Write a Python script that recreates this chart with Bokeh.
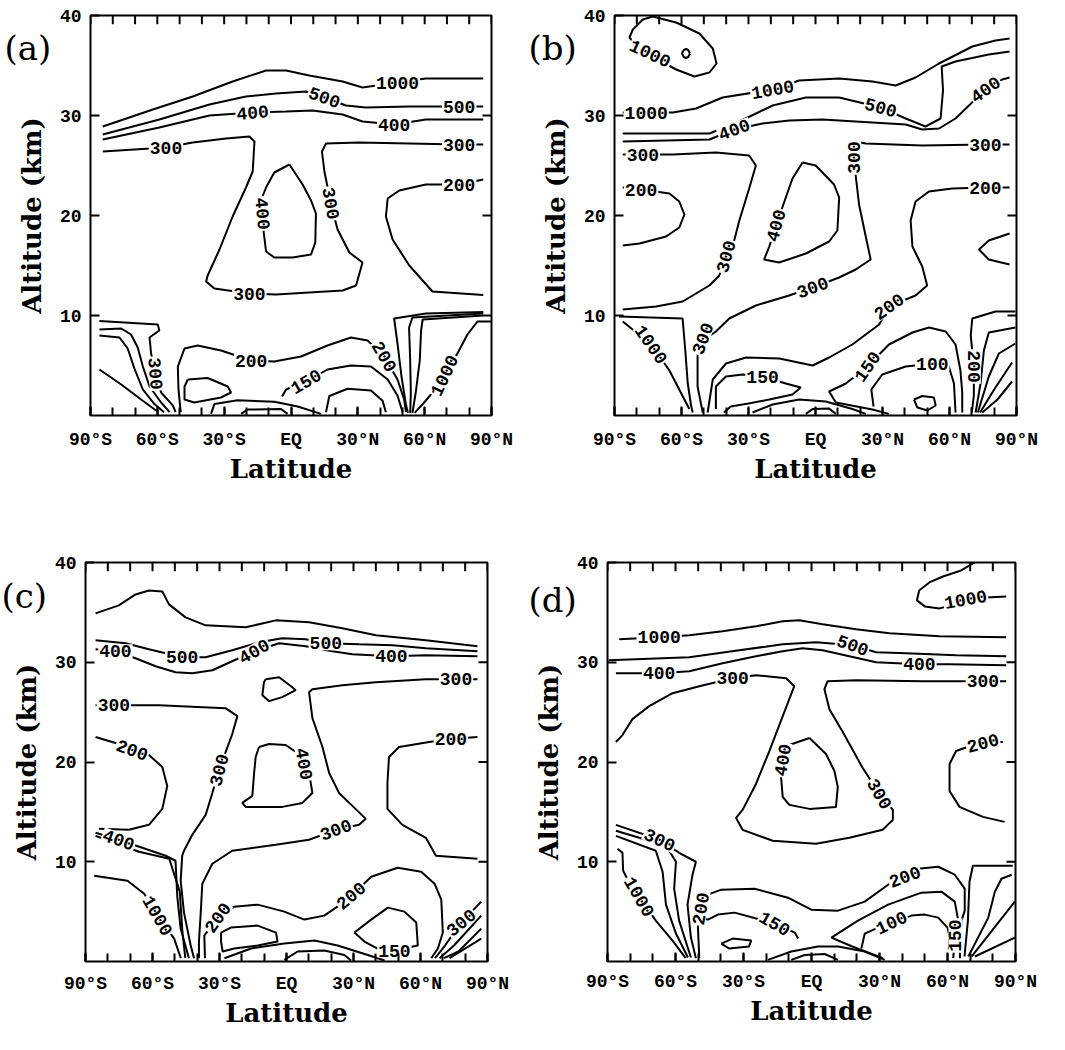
from bokeh.plotting import figure
from bokeh.models import FixedTicker, Range1d
from bokeh.layouts import column, row
from bokeh.embed import file_html
from bokeh.resources import INLINE
from bokeh.core.properties import value

# ---------------- axes ----------------
LAT_TICKS = [-90, -60, -30, 0, 30, 60, 90]
LAT_LABELS = ["90\u00b0S", "60\u00b0S", "30\u00b0S", "EQ", "30\u00b0N", "60\u00b0N", "90\u00b0N"]
LAT_MINOR = [-90, -80, -70, -60, -50, -40, -30, -20, -10, 0, 10, 20, 30, 40, 50, 60, 70, 80, 90]
ALT_TICKS = [10, 20, 30, 40]
ALT_RIGHT_TICKS = [10, 20, 30]

# ---------------- panel (a): contour lines (latitude, km) ----------------
A_LEVELS = [1000, 500, 400, 300, 400, 200, 300, 400, 500, 1000, 200, 150, 150, 200, 150, 100, 300, 400, 500, 1000]
A_LAT = [
    [-84.5, -62.0, -44.1, -26.2, -11.2, -2.2, 8.2, 23.2, 32.1, 47.8, 60.5, 86.3],
    [-84.5, -59.1, -36.6, -20.2, -6.7, 6.7, 15.0, 24.7, 33.6, 53.1, 75.5, 86.3],
    [-84.5, -59.1, -36.6, -17.2, -2.2, 9.7, 23.2, 32.1, 46.3, 60.5, 86.3],
    [-84.5, -56.1, -44.1, -29.2, -18.7, -16.4, -17.2, -20.2, -26.2, -32.1, -37.4, -38.1, -34.4, -18.7, -6.7,
     8.2, 23.2, 29.2, 32.1, 26.2, 20.9, 17.9, 15.0, 13.9, 15.7, 30.6, 53.1, 75.5, 86.3],
    [-0.7, -7.5, -11.2, -13.5, -12.7, -12.4, -11.2, -7.5, 0.7, 9.0, 10.9, 11.2, 9.0, 5.2, -0.7],
    [86.3, 75.5, 60.5, 48.6, 43.4, 42.6, 45.6, 53.1, 63.5, 86.3],
    [-86.0, -59.8, -59.1, -63.5, -62.8, -60.8, -58.3, -53.0, -51.8],
    [-86.0, -76.2, -71.8, -68.8, -66.5, -63.5, -58.3, -54.5],
    [-86.0, -77.0, -73.3, -70.3, -66.5, -61.3, -57.0],
    [-86.0, -76.2, -67.3, -59.5],
    [-49.5, -50.5, -50.8, -47.8, -41.9, -31.4, -17.9, -7.5, 4.5, 16.4, 26.9, 34.4, 41.9, 47.8, 50.8, 51.6],
    [-46.3, -37.4, -28.4, -26.9, -31.4, -43.4, -47.8, -47.8, -46.3],
    [-4.0, -2.2, 6.7, 16.4, 26.9, 35.9, 43.4, 47.8, 50.1],
    [-35.9, -34.4, -23.9, -7.5, 3.0, 13.5],
    [-22.4, -19.4, -4.5, -1.5],
    [15.7, 17.2, 25.4, 35.9, 41.1, 42.6],
    [86.3, 60.5, 46.3, 47.8, 49.6, 51.5, 52.5],
    [86.3, 54.5, 53.0, 53.5, 53.8, 53.5],
    [86.3, 59.1, 58.4, 57.8, 56.0, 54.5],
    [90.0, 83.7, 79.2, 74.7, 70.3, 67.3, 59.8, 55.5],
]
A_ALT = [
    [28.9, 30.6, 31.9, 33.4, 34.5, 34.5, 34.0, 33.4, 32.8, 33.3, 33.7, 33.7],
    [28.1, 29.6, 31.1, 31.9, 32.2, 32.4, 31.8, 31.0, 30.8, 30.9, 30.9, 30.9],
    [27.6, 28.8, 30.0, 30.3, 30.4, 30.5, 30.1, 29.4, 29.1, 29.6, 29.6],
    [26.4, 26.8, 27.3, 27.7, 27.9, 27.4, 24.4, 22.8, 19.9, 16.6, 14.0, 13.4, 12.7, 12.2, 12.1,
     12.3, 12.5, 13.0, 15.3, 16.3, 18.6, 21.2, 24.4, 26.4, 27.2, 27.3, 27.2, 27.1, 27.1],
    [25.1, 24.3, 22.8, 21.5, 20.2, 18.6, 16.4, 15.8, 15.8, 16.1, 17.3, 20.2, 21.5, 23.1, 25.1],
    [23.6, 23.1, 23.1, 22.5, 21.7, 19.9, 17.6, 15.0, 12.4, 12.05],
    [9.45, 9.1, 8.5, 7.8, 6.2, 4.2, 2.3, 0.98, 0.33],
    [8.6, 8.7, 8.1, 6.8, 4.9, 2.9, 1.3, 0.33],
    [8.0, 7.8, 6.7, 4.7, 2.6, 1.14, 0.33],
    [4.6, 3.1, 1.6, 0.33],
    [0.33, 2.6, 4.9, 6.7, 7.0, 6.5, 5.5, 5.4, 5.9, 7.0, 7.8, 7.5, 5.9, 3.6, 1.6, 0.33],
    [3.6, 3.75, 2.9, 2.3, 1.8, 1.3, 1.6, 2.9, 3.6],
    [1.9, 2.6, 3.4, 4.6, 5.0, 4.9, 3.6, 2.0, 0.33],
    [0.16, 1.14, 1.53, 1.37, 0.9, 0.16],
    [0.16, 0.6, 0.65, 0.16],
    [0.33, 1.95, 2.67, 2.5, 1.47, 0.33],
    [10.35, 10.2, 9.7, 7.2, 3.9, 1.2, 0.26],
    [10.2, 9.8, 8.8, 5.5, 2.3, 0.26],
    [10.0, 9.6, 8.5, 5.5, 2.3, 0.26],
    [9.4, 9.4, 8.1, 6.2, 4.6, 3.3, 1.3, 0.26],
]
A_LAB_TEXT = ["1000", "500", "500", "400", "400", "300", "300", "400", "300", "300", "200", "200", "200", "150", "300", "1000"]
A_LAB_LAT = [47.8, 15.0, 75.5, -17.2, 46.3, -56.1, 75.5, -12.7, 17.9, -18.7, 75.5, -17.9, 41.9, 6.7, -60.8, 68.8]
A_LAB_ALT = [33.3, 31.8, 30.9, 30.3, 29.1, 26.8, 27.1, 20.2, 21.2, 12.2, 23.1, 5.5, 5.9, 3.4, 4.2, 4.0]
A_LAB_ANG = [0, -20, 0, 5, 0, 0, 0, -85, -80, 0, 0, 0, -60, 30, -85, 65]

# ---------------- panel (b) ----------------
B_LEVELS = [1000, 1000, 1000, 500, 400, 300, 300, 400, 200, 200, 200, 150, 200, 150, 150, 100, 100,
            200, 300, 400, 500, 1000, 1000, 500]
B_LAT = [
    [-72.9, -62.4, -52.0, -46.0, -44.3, -47.5, -54.2, -62.4, -71.4, -80.3, -83.3, -81.8, -77.3, -72.9],
    [-56.2, -57.0, -58.0, -59.0, -59.8, -59.0, -58.0, -57.0, -56.2],
    [-86.3, -75.8, -63.9, -53.5, -41.6, -19.2, -7.3, 10.6, 25.5, 35.9, 44.8, 55.3, 70.2, 80.6, 86.9],
    [-86.3, -47.5, -34.1, -19.2, -4.3, 10.6, 29.2, 40.4, 49.3, 56.0, 57.1, 56.5, 62.7, 77.6, 86.9],
    [-86.3, -47.5, -36.4, -23.7, -11.8, 3.1, 18.0, 32.9, 40.4, 47.8, 55.3, 62.7, 76.1, 83.6, 86.9],
    [-86.3, -77.3, -63.9, -44.6, -29.7, -26.7, -29.7, -34.1, -37.1, -40.1, -43.1, -47.5, -59.5, -71.4, -86.3],
    [86.9, 76.1, 47.8, 22.5, 18.0, 17.3, 18.0, 19.5, 22.5, 24.7, 18.0, 10.6, -1.3, -11.8, -26.7,
     -38.6, -44.6, -49.8, -52.8, -52.8, -50.5],
    [-5.8, -10.3, -17.7, -20.7, -23.0, -16.3, -4.3, 6.1, 9.8, 10.6, 8.3, 0.1, -5.8],
    [-86.3, -78.1, -65.4, -61.0, -58.7, -61.0, -66.9, -78.8, -86.3],
    [86.9, 76.1, 61.2, 50.8, 44.8, 42.6, 43.4, 47.8, 50.0, 44.8, 40.4, 32.9, 28.5, 16.5, 6.1,
     -1.3, -16.2, -31.1, -40.1, -46.0, -48.3],
    [86.9, 77.6, 73.2, 77.6, 86.9],
    [-44.6, -44.6, -40.1, -32.6, -23.7, -13.3, -6.6, -10.3, -20.7, -30.0, -38.0, -41.0],
    [-28.2, -19.2, -7.3, 4.6, 16.5, 22.5],
    [-4.3, -1.3, 6.1, 9.1],
    [32.9, 25.5, 9.1, 6.1, 13.6, 23.2, 32.9, 43.4, 50.8, 58.3, 62.7, 64.9, 65.7, 65.7],
    [26.0, 25.0, 29.9, 40.4, 52.3, 59.7, 62.0, 62.7],
    [44.1, 47.8, 53.0, 53.8, 50.1, 45.6, 44.1],
    [89.5, 80.6, 70.2, 69.5, 70.9, 70.9, 70.0],
    [89.5, 77.6, 75.4, 73.9, 71.7],
    [89.5, 82.1, 77.6, 72.7],
    [88.0, 80.0, 73.7],
    [88.0, 81.5, 74.7],
    [-86.3, -73.6, -65.4, -56.5],
    [-88.0, -59.5, -58.3, -57.2, -55.7, -55.0],
]
B_ALT = [
    [39.9, 39.3, 38.2, 36.7, 35.2, 34.3, 33.9, 34.6, 35.7, 37.0, 37.8, 38.6, 39.6, 39.9],
    [36.2, 36.55, 36.65, 36.55, 36.2, 35.85, 35.75, 35.85, 36.2],
    [30.3, 30.3, 30.3, 30.7, 31.8, 32.6, 33.5, 33.7, 33.4, 33.0, 33.8, 35.2, 36.9, 37.5, 37.7],
    [28.2, 28.2, 29.4, 31.0, 31.8, 31.8, 30.8, 29.7, 28.9, 29.7, 32.5, 34.9, 35.4, 36.1, 36.4],
    [27.4, 27.6, 28.6, 29.2, 29.5, 29.6, 29.4, 29.2, 29.1, 28.6, 28.7, 29.7, 32.6, 33.6, 33.8],
    [26.1, 26.1, 26.1, 26.3, 26.0, 25.0, 22.7, 19.5, 16.9, 15.9, 14.0, 13.0, 11.4, 10.9, 10.6],
    [27.1, 27.1, 27.0, 27.2, 27.4, 25.8, 24.0, 21.1, 17.9, 15.6, 14.6, 13.8, 12.8, 12.0, 11.0,
     9.7, 8.4, 7.6, 6.2, 2.9, 0.3],
    [25.3, 23.7, 19.0, 16.9, 15.6, 15.3, 16.2, 17.4, 18.5, 21.8, 23.1, 25.0, 25.3],
    [22.8, 22.6, 22.2, 21.4, 20.1, 18.8, 17.9, 17.2, 17.0],
    [22.8, 22.8, 22.7, 22.4, 21.4, 19.5, 16.9, 14.9, 13.0, 12.0, 11.6, 10.9, 9.1, 7.1, 5.8,
     5.0, 5.7, 5.8, 5.2, 3.6, 0.3],
    [18.2, 17.5, 16.6, 15.6, 15.1],
    [0.65, 2.9, 3.9, 4.1, 3.9, 3.2, 2.8, 2.1, 1.6, 1.2, 0.9, 0.3],
    [0.3, 1.1, 1.6, 1.4, 0.65, 0.16],
    [0.16, 0.65, 0.7, 0.16],
    [0.16, 0.6, 1.3, 2.4, 3.2, 4.9, 7.1, 8.3, 8.8, 8.4, 7.1, 4.5, 2.3, 0.3],
    [0.9, 2.6, 4.1, 4.9, 5.2, 4.9, 3.2, 0.3],
    [1.6, 1.95, 1.8, 1.0, 0.5, 0.8, 1.6],
    [10.4, 10.4, 9.7, 8.0, 4.9, 2.0, 0.3],
    [8.8, 8.3, 6.5, 3.2, 0.3],
    [7.2, 6.2, 3.9, 0.3],
    [5.3, 2.6, 0.3],
    [3.4, 1.6, 0.3],
    [9.4, 7.1, 4.5, 0.65],
    [9.9, 9.7, 6.5, 3.2, 1.0, 0.3],
]
B_LAB_TEXT = ["1000", "1000", "1000", "500", "400", "400", "300", "300", "200", "200", "300", "400", "300",
              "300", "300", "1000", "200", "150", "150", "100", "200"]
B_LAB_LAT = [-74.0, -75.8, -19.2, 29.2, -36.4, 76.1, -77.3, 76.1, -78.1, 76.1, -40.1, -17.7, 17.3,
             -1.3, -50.5, -73.6, 32.9, -23.7, 23.2, 52.3, 70.9]
B_LAB_ALT = [36.2, 30.3, 32.6, 30.8, 28.6, 32.6, 26.1, 27.1, 22.6, 22.8, 15.9, 19.0, 25.8,
             12.8, 7.7, 7.1, 10.9, 3.9, 4.9, 5.2, 4.9]
B_LAB_ANG = [-25, 0, 10, -15, 20, 35, 0, 0, 0, 0, 75, 75, 90, 20, 70, -55, 35, 0, 55, 0, -90]

# ---------------- panel (c) ----------------
C_LEVELS = [1000, 500, 400, 300, 300, 200, 400, 500, 1000, 200, 150, 200, 150, 150, 300, 400, 500, 1000,
            200, 300, 400]
C_LAT = [
    [-85.5, -75.1, -67.6, -61.6, -55.6, -52.6, -45.2, -36.2, -18.3, -4.8, 10.1, 25.0, 40.0, 62.4, 85.5],
    [-85.5, -72.1, -61.6, -46.7, -36.2, -24.3, -12.3, -1.9, 8.6, 17.6, 32.5, 47.5, 62.4, 85.5],
    [-85.5, -76.6, -67.6, -58.6, -49.7, -42.2, -33.2, -14.5, -3.3, 8.6, 20.6, 29.5, 47.0, 62.4, 85.5],
    [85.5, 75.9, 62.4, 40.0, 25.0, 11.6, 10.1, 11.6, 16.1, 19.1, 23.5, 29.5, 35.5, 32.5, 22.1,
     10.1, -4.8, -24.3, -33.2, -37.7, -38.4, -39.2, -39.2],
    [-85.5, -77.3, -57.1, -27.3, -22.0, -24.3, -30.2, -33.2, -36.2, -42.2, -45.9, -46.7, -47.4, -45.9, -42.9, -41.4],
    [-85.5, -75.1, -69.1, -61.6, -55.6, -53.4, -55.6, -61.6, -70.6, -84.0],
    [-85.5, -75.1, -64.6, -54.1, -49.7, -48.9, -47.4, -43.7],
    [-85.5, -66.0, -52.5, -47.8, -46.6, -45.3],
    [-86.1, -71.2, -63.7, -57.7, -50.3, -47.3],
    [-36.5, -36.8, -30.8, -23.4, -12.9, -1.0, 8.0, 16.9, 27.4, 37.9, 49.8, 60.3, 66.3, 69.3, 70.0, 67.8, 64.8],
    [-29.3, -24.9, -12.9, -4.7, -4.0, -12.9, -23.4, -28.6, -29.3, -29.3],
    [-27.8, -15.9, -1.0, 12.5, 22.9, 36.4, 43.9],
    [-1.0, 5.0, 16.9, 25.9, 28.9],
    [30.4, 37.9, 45.4, 52.8, 58.1, 58.8, 48.3, 40.8, 34.9, 30.4],
    [87.2, 78.2, 71.0, 66.5],
    [87.2, 75.0, 68.5],
    [87.2, 77.0, 70.5],
    [87.2, 73.0],
    [85.5, 73.6, 63.9, 50.4, 45.9, 45.2, 45.2, 51.9, 62.4, 66.9, 85.5],
    [-9.3, -3.3, 2.6, 4.1, -1.9, -7.8, -10.8, -10.1, -9.3],
    [-12.3, -7.8, -0.4, 5.6, 10.1, 11.6, 7.1, -1.9, -18.3, -19.8, -15.3, -14.5, -13.8, -12.3],
]
C_ALT = [
    [34.9, 35.7, 36.8, 37.2, 37.1, 35.8, 34.5, 33.7, 33.5, 34.2, 34.0, 33.4, 32.7, 32.2, 31.6],
    [32.2, 31.9, 31.3, 30.5, 30.5, 31.2, 32.0, 32.4, 32.3, 31.9, 31.8, 31.7, 31.4, 31.1],
    [31.3, 31.1, 30.4, 29.6, 29.0, 28.9, 29.2, 31.1, 31.9, 31.6, 31.1, 30.8, 30.6, 30.7, 30.6],
    [28.3, 28.3, 28.3, 28.0, 27.7, 27.3, 27.0, 24.4, 21.5, 18.9, 16.9, 15.6, 14.3, 13.7, 13.2,
     12.2, 11.7, 11.1, 9.8, 7.8, 4.9, 2.0, 0.33],
    [25.7, 25.7, 25.7, 25.4, 24.6, 22.8, 19.2, 16.9, 14.7, 12.7, 11.1, 10.6, 8.1, 4.9, 1.6, 0.33],
    [22.5, 21.8, 21.2, 20.7, 19.5, 17.6, 15.3, 13.7, 13.2, 13.3],
    [12.9, 12.2, 11.4, 10.6, 10.1, 6.5, 3.3, 0.33],
    [12.6, 11.0, 10.3, 7.0, 3.0, 0.33],
    [8.6, 8.1, 6.8, 4.6, 2.3, 0.33],
    [0.33, 2.6, 4.4, 5.5, 5.7, 5.0, 4.2, 4.6, 6.2, 8.5, 9.4, 9.0, 7.8, 6.2, 2.9, 1.3, 0.33],
    [2.9, 3.4, 3.6, 2.9, 2.0, 1.6, 1.3, 1.0, 2.0, 2.9],
    [0.33, 1.3, 1.8, 2.1, 1.6, 0.65, 0.1],
    [0.16, 1.0, 1.1, 0.65, 0.1],
    [2.9, 4.2, 5.4, 5.0, 3.9, 1.6, 1.1, 1.3, 2.0, 2.9],
    [6.0, 3.9, 1.6, 0.33],
    [4.6, 1.6, 0.33],
    [3.3, 1.0, 0.33],
    [2.3, 0.33],
    [22.5, 22.3, 22.0, 21.5, 20.5, 17.9, 15.3, 13.7, 12.4, 10.6, 10.3],
    [28.3, 28.5, 27.5, 27.2, 26.5, 26.1, 26.7, 28.0, 28.3],
    [21.5, 21.8, 21.7, 20.8, 18.9, 16.9, 15.9, 15.5, 15.5, 15.9, 16.6, 18.9, 20.5, 21.5],
]
C_LAB_TEXT = ["400", "500", "400", "500", "400", "300", "300", "200", "300", "400", "200", "300", "400",
              "1000", "200", "200", "150", "300"]
C_LAB_LAT = [-76.6, -46.7, -14.5, 17.6, 47.0, 75.9, -77.3, -69.1, -30.2, 7.9, 73.6, 22.1, -75.1,
             -57.7, -30.8, 28.9, 48.3, 78.2]
C_LAB_ALT = [31.1, 30.5, 31.1, 31.9, 30.6, 28.3, 25.7, 21.2, 19.2, 19.8, 22.3, 13.2, 12.2,
             4.6, 4.4, 6.6, 1.1, 3.9]
C_LAB_ANG = [0, 0, 30, 0, 0, 0, 0, -20, 75, -80, 0, 20, -20, -60, 55, 40, 0, 40]

# ---------------- panel (d) ----------------
D_LEVELS = [1000, 1000, 500, 400, 300, 400, 200, 1000, 300, 400, 500, 200, 150, 100, 150, 100, 150, 150,
            300, 400, 500, 1000]
D_LAT = [
    [85.9, 77.0, 68.0, 60.0, 56.5, 50.0, 46.5, 47.5, 52.0, 58.0, 66.0, 72.0],
    [-84.8, -67.2, -53.9, -39.2, -24.5, -12.7, -5.4, 4.9, 19.7, 34.4, 56.5, 85.9],
    [-89.5, -53.9, -31.9, -12.7, 2.0, 18.2, 28.5, 41.7, 63.8, 85.9],
    [-86.3, -67.2, -53.9, -39.2, -24.5, -12.7, -3.9, 4.9, 16.7, 28.5, 47.6, 60.9, 85.9],
    [-86.3, -83.4, -79.0, -71.6, -61.3, -49.5, -34.8, -24.5, -11.2, -7.6, -9.8, -14.2, -18.6, -24.5, -30.4,
     -33.3, -30.4, -17.1, 2.0, 16.7, 31.4, 35.9, 35.9, 30.0, 22.6, 13.8, 7.9, 5.7, 7.1, 19.7, 49.1, 75.6, 85.9],
    [-0.9, -9.8, -12.7, -13.4, -12.7, -9.8, -0.9, 10.8, 11.6, 10.1, 6.4, -0.9],
    [84.4, 75.6, 71.2, 63.8, 60.9, 60.9, 65.3, 75.6, 85.2],
    [-85.6, -83.4, -83.1, -79.0, -76.0, -68.7, -61.3, -55.5],
    [-86.3, -67.0, -58.4, -51.0, -52.5, -54.7, -53.2, -51.0],
    [-86.3, -64.2, -59.8, -60.6, -58.4, -53.2],
    [-86.3, -68.7, -65.7, -64.2, -59.8, -54.5],
    [-49.5, -50.1, -48.6, -45.7, -39.8, -25.1, -10.4, -0.1, 11.7, 23.5, 33.8, 41.2, 47.0, 55.9, 63.2,
     67.6, 67.6, 66.2, 65.5, 65.5],
    [31.5, 18.0, 8.8, 20.5, 33.8, 48.5, 57.3, 63.2, 64.5, 63.5, 62.5],
    [22.0, 23.5, 29.4, 35.3, 44.1, 50.0, 55.9, 60.0, 61.0, 60.5],
    [-19.2, -8.9, 2.9, 11.7, 23.5, 32.3],
    [-8.9, -3.0, 5.8, 11.7],
    [-48.5, -45.7, -41.3, -33.9, -16.2, -7.4, -5.9],
    [-39.8, -34.8, -26.6, -27.6, -36.3, -39.8],
    [88.8, 71.2, 69.7, 69.0, 67.5],
    [88.3, 83.8, 80.9, 78.0, 69.2],
    [89.7, 70.6],
    [89.7, 72.1],
]
D_ALT = [
    [36.6, 36.5, 36.3, 35.6, 35.4, 35.6, 36.2, 37.2, 38.0, 38.6, 39.2, 40.0],
    [32.3, 32.5, 32.7, 33.1, 33.6, 34.1, 34.2, 33.8, 33.3, 32.9, 32.6, 32.5],
    [30.2, 30.5, 31.2, 31.8, 32.0, 31.7, 31.0, 30.9, 30.7, 30.6],
    [28.9, 28.9, 29.1, 29.9, 30.6, 31.1, 31.4, 31.2, 30.6, 30.0, 29.8, 29.8, 29.7],
    [22.0, 22.7, 24.3, 25.6, 26.9, 27.6, 28.4, 28.7, 28.4, 27.6, 26.3, 23.7, 21.1, 17.8, 15.2,
     14.4, 13.2, 12.1, 11.8, 12.4, 13.2, 14.2, 15.2, 16.8, 19.4, 23.0, 25.3, 27.3, 28.1, 28.2, 28.1, 28.1, 28.1],
    [22.4, 21.7, 20.2, 18.4, 16.5, 15.7, 15.3, 15.5, 17.5, 19.1, 20.8, 22.4],
    [22.0, 21.9, 21.7, 21.1, 19.8, 17.1, 15.5, 14.5, 14.0],
    [11.3, 10.9, 9.1, 7.3, 6.5, 4.1, 2.1, 0.33],
    [13.7, 12.2, 10.9, 10.0, 8.7, 5.7, 2.4, 0.33],
    [13.1, 11.6, 10.0, 7.3, 4.1, 0.4],
    [12.6, 11.1, 9.0, 5.7, 2.8, 0.4],
    [0.33, 3.4, 6.0, 6.7, 7.2, 7.3, 6.4, 5.2, 5.1, 6.0, 7.7, 8.5, 9.3, 9.5, 8.7,
     7.3, 5.1, 4.1, 2.0, 0.33],
    [0.33, 1.5, 2.4, 4.1, 5.7, 6.9, 7.0, 6.0, 4.4, 2.6, 0.33],
    [1.3, 2.8, 3.4, 3.9, 4.6, 4.7, 4.4, 3.4, 2.4, 1.2],
    [0.16, 1.0, 1.5, 1.5, 1.0, 0.16],
    [0.16, 0.65, 0.75, 0.16],
    [4.3, 4.2, 4.7, 4.9, 3.8, 2.9, 2.3],
    [1.8, 2.3, 2.1, 1.5, 1.3, 1.8],
    [9.6, 9.6, 8.0, 4.1, 0.5],
    [8.7, 8.3, 7.0, 4.4, 0.5],
    [6.0, 0.5],
    [2.4, 0.5],
]
D_LAB_TEXT = ["1000", "1000", "500", "400", "400", "300", "300", "400", "300", "200", "300", "1000", "200",
              "150", "200", "100", "150"]
D_LAB_LAT = [68.0, -67.2, 18.2, -67.2, 47.6, -34.8, 75.6, -12.7, 30.0, 75.6, -67.0, -76.0, -48.9,
             -16.2, 41.2, 35.3, 63.5]
D_LAB_ALT = [36.3, 32.5, 31.7, 28.9, 29.8, 28.4, 28.1, 20.2, 16.8, 21.9, 12.2, 6.5, 5.3,
             3.8, 8.5, 3.9, 2.6]
D_LAB_ANG = [10, 0, -20, 0, 0, 0, 0, 80, -60, 15, -25, -60, 80, -30, 20, 25, 90]

MONO = "Liberation Mono"
SERIF = "DejaVu Serif"
X0, X1, Y0, Y1 = -90, 90, 0, 40


def make_panel(tag, lats, alts, lab_text, lab_lat, lab_alt, lab_ang, geom, tag_dx, tag_dy, x_standoff):
    left, top, fw, fh, right, bottom = geom
    p = figure(width=left + fw + right, height=top + fh + bottom,
               x_range=Range1d(X0, X1), y_range=Range1d(Y0, Y1),
               output_backend="svg", toolbar_location=None, tools="",
               min_border_left=left, min_border_right=right,
               min_border_top=top, min_border_bottom=bottom,
               x_axis_label="Latitude", y_axis_label="Altitude (km)")
    p.grid.visible = False
    p.outline_line_color = "black"
    p.outline_line_width = 2
    p.background_fill_color = "white"
    p.border_fill_color = "white"

    # panel tag "(a)".. drawn by the title, pulled left of the frame and down beside it
    p.title.text = tag
    p.title.align = "left"
    p.title.vertical_align = "bottom"
    p.title.offset = tag_dx
    p.title.standoff = -2 * tag_dy
    p.title.text_font = SERIF
    p.title.text_font_size = "34px"
    p.title.text_font_style = "normal"
    p.title.text_color = "black"

    xa = p.xaxis[0]
    xa.ticker = FixedTicker(ticks=LAT_TICKS, minor_ticks=LAT_MINOR)
    xa.major_label_overrides = {t: s for t, s in zip(LAT_TICKS, LAT_LABELS)}
    ya = p.yaxis[0]
    ya.ticker = FixedTicker(ticks=ALT_TICKS)
    for ax in (xa, ya):
        ax.axis_line_color = None
        ax.major_tick_in = 9
        ax.major_tick_out = 0
        ax.major_tick_line_width = 2
        ax.minor_tick_in = 8
        ax.minor_tick_out = 0
        ax.minor_tick_line_width = 2
        ax.major_label_text_font = MONO
        ax.major_label_text_font_size = "18px"
        ax.major_label_text_font_style = "bold"
        ax.major_label_text_color = "black"
        ax.axis_label_text_font = SERIF
        ax.axis_label_text_font_size = "26px"
        ax.axis_label_text_font_style = "bold"
        ax.axis_label_text_color = "black"
    xa.major_label_standoff = x_standoff
    xa.axis_label_standoff = 1
    ya.major_label_standoff = 9
    ya.axis_label_standoff = 10
    ya.minor_tick_line_color = None

    # inward tick marks on the top and right edges of the frame (pixel lengths -> data units)
    tx = 9 * (X1 - X0) / fw
    ty = 9 * (Y1 - Y0) / fh
    p.segment(x0=LAT_MINOR, y0=[Y1] * len(LAT_MINOR), x1=LAT_MINOR, y1=[Y1 - ty] * len(LAT_MINOR),
              line_color="black", line_width=2)
    p.segment(x0=[X1] * len(ALT_RIGHT_TICKS), y0=ALT_RIGHT_TICKS, x1=[X1 - tx] * len(ALT_RIGHT_TICKS),
              y1=ALT_RIGHT_TICKS, line_color="black", line_width=2)

    p.multi_line(xs=lats, ys=alts, line_color="black", line_width=2)
    p.text(x=lab_lat, y=lab_alt, text=lab_text, angle=lab_ang, angle_units="deg",
           text_font=value(MONO), text_font_size="18px", text_font_style="bold",
           text_color="black", text_align="center", text_baseline="middle",
           background_fill_color="white", padding=1)
    return p


pa = make_panel("(a)", A_LAT, A_ALT, A_LAB_TEXT, A_LAB_LAT, A_LAB_ALT, A_LAB_ANG,
                (90, 9, 401, 406, 36, 95), -86, 52, 14)
pb = make_panel("(b)", B_LAT, B_ALT, B_LAB_TEXT, B_LAB_LAT, B_LAB_ALT, B_LAB_ANG,
                (87, 15, 402, 410, 25, 85), -86, 52, 14)
pc = make_panel("(c)", C_LAT, C_ALT, C_LAB_TEXT, C_LAB_LAT, C_LAB_ALT, C_LAB_ANG,
                (85, 46, 402, 409, 40, 65), -84, 53, 12)
pd = make_panel("(d)", D_LAT, D_ALT, D_LAB_TEXT, D_LAB_LAT, D_LAB_ALT, D_LAB_ANG,
                (80, 52, 408, 408, 26, 60), -79, 57, 10)

layout = column(row(pa, pb, spacing=0), row(pc, pd, spacing=0), spacing=0)
open("out.html", "w").write(file_html(layout, INLINE))
